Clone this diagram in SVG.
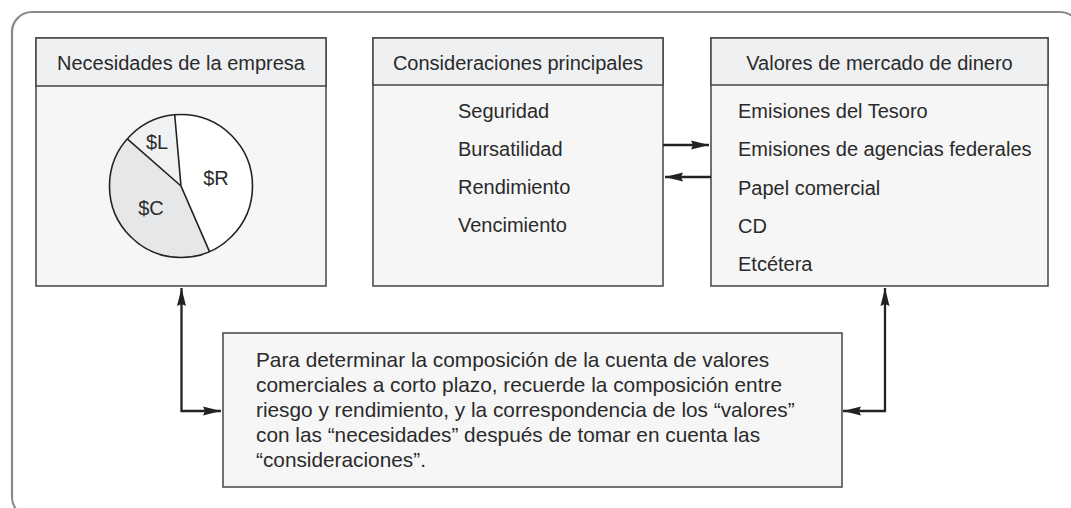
<svg xmlns="http://www.w3.org/2000/svg" width="1071" height="508" viewBox="0 0 1071 508">
<style>
.frame{fill:#ffffff;stroke:#8a8a8a;stroke-width:2.2}
.body{fill:#f6f6f6;stroke:#444;stroke-width:1.5}
.head{fill:#eef0f2;stroke:#444;stroke-width:1.5}
text{font-family:"Liberation Sans",Arial,sans-serif;font-size:20px;fill:#2a2a2a}
.c{text-anchor:middle}
.n{font-size:20.8px}
.conn{fill:none;stroke:#222;stroke-width:2.3}
</style>
<defs>
<marker id="ah" markerUnits="userSpaceOnUse" markerWidth="20" markerHeight="10" refX="18" refY="5" orient="auto-start-reverse">
<path d="M0,0.5 L18,5 L0,9.5 L2,5 Z" fill="#222"/>
</marker>
</defs>
<rect class="frame" x="12" y="12" width="1068" height="505" rx="20"/>
<g id="necesidades">
<rect class="body" x="36" y="38" width="290" height="248"/>
<rect class="head" x="36" y="38" width="290" height="48"/>
<text class="c" x="181" y="70">Necesidades de la empresa</text>
<g id="pie">
<circle cx="181" cy="186" r="71.5" fill="#ffffff" stroke="none"/>
<path d="M181,186 L174.7,114.8 A71.5,71.5 0 0 0 127.3,138.9 Z" fill="#f0f1f3" stroke="none"/>
<path d="M181,186 L127.3,138.9 A71.5,71.5 0 0 0 209.5,251.6 Z" fill="#e6e7e9" stroke="none"/>
<circle cx="181" cy="186" r="71.5" fill="none" stroke="#222" stroke-width="1.6"/>
<path d="M174.7,114.8 L181,186 L209.5,251.6 M127.3,138.9 L181,186" fill="none" stroke="#222" stroke-width="1.6"/>
<text class="c" x="157" y="149">$L</text>
<text class="c" x="216" y="185">$R</text>
<text class="c" x="151" y="215">$C</text>
</g>
</g>
<g id="consideraciones">
<rect class="body" x="373" y="38" width="290" height="248"/>
<rect class="head" x="373" y="38" width="290" height="47"/>
<text class="c" x="518" y="70">Consideraciones principales</text>
<text x="458" y="118">Seguridad</text>
<text x="458" y="156">Bursatilidad</text>
<text x="458" y="194">Rendimiento</text>
<text x="458" y="232">Vencimiento</text>
</g>
<g id="valores">
<rect class="body" x="711" y="38" width="337" height="248"/>
<rect class="head" x="711" y="38" width="337" height="47"/>
<text class="c" x="879.5" y="70">Valores de mercado de dinero</text>
<text x="738" y="118">Emisiones del Tesoro</text>
<text x="738" y="156">Emisiones de agencias federales</text>
<text x="738" y="195">Papel comercial</text>
<text x="738" y="233">CD</text>
<text x="738" y="271">Etcétera</text>
</g>
<g id="nota">
<rect class="body" x="223" y="333" width="619" height="154"/>
<text class="n" x="256" y="367">Para determinar la composición de la cuenta de valores</text>
<text class="n" x="256" y="392">comerciales a corto plazo, recuerde la composición entre</text>
<text class="n" x="256" y="417">riesgo y rendimiento, y la correspondencia de los “valores”</text>
<text class="n" x="256" y="442">con las “necesidades” después de tomar en cuenta las</text>
<text class="n" x="256" y="467">“consideraciones”.</text>
</g>
<g id="connectors">
<path class="conn" d="M663,145 L709,145" marker-end="url(#ah)"/>
<path class="conn" d="M711,177 L665,177" marker-end="url(#ah)"/>
<path class="conn" d="M221,411 L181.5,411 L181.5,288" marker-start="url(#ah)" marker-end="url(#ah)"/>
<path class="conn" d="M843,411 L885,411 L885,288" marker-start="url(#ah)" marker-end="url(#ah)"/>
</g>
</svg>
